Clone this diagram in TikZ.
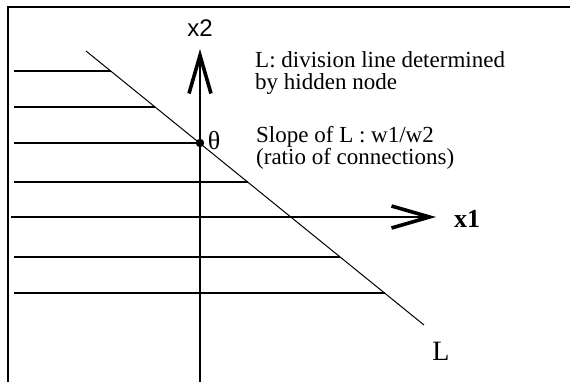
\documentclass[tikz,border=0pt]{standalone}
\usepackage{fontspec}
\setmainfont{Liberation Serif}
\newfontfamily\arialfont{Liberation Sans}
\usetikzlibrary{arrows.meta}
\tikzset{
  frameline/.style={line width=2.2pt},
  axisline/.style={line width=2.8pt},
  hatchline/.style={line width=1.5pt},
  divline/.style={line width=1pt},
  vtip/.style={-{Straight Barb[length=38pt,width=22pt,line width=3.6pt]}},
  txt/.style={inner sep=0pt,anchor=base west,font=\fontsize{23}{23}\selectfont},
}
\begin{document}
\begin{tikzpicture}[x=1pt,y=-1pt]
\useasboundingbox (0,0) rectangle (570,382);
% frame (left and top)
\coordinate (fb) at (8,382);
\coordinate (fc) at (8,7);
\coordinate (fr) at (570,7);
\draw[frameline] (fb) -- (fc) -- (fr);
% hatch lines
\foreach \yy/\xx [count=\i] in {71/110.7,107/155.1,143/199.5,182/247.6,257/340.1,293/384.5}{
  \coordinate (hs\i) at (14,\yy);
  \coordinate (he\i) at (\xx,\yy);
  \draw[hatchline] (hs\i) -- (he\i);
}
% division line L
\coordinate (La) at (86,51);
\coordinate (Lb) at (424,325);
\draw[divline] (La) -- (Lb);
% axes
\coordinate (x1s) at (11,217);
\coordinate (x1e) at (436,217);
\coordinate (x2s) at (200,382);
\coordinate (x2e) at (200,49);
\draw[axisline,vtip] (x1s) -- (x1e);
\draw[axisline,vtip] (x2s) -- (x2e);
% theta point
\fill (200,143) circle (4.2pt) coordinate (th);
\node[inner sep=0pt,font=\fontsize{26}{26}\selectfont] (thlab) at (214,141) {θ};
% axis labels
\node[inner sep=0pt,font=\arialfont\fontsize{24}{24}\selectfont] (x2lab) at (200,28) {x2};
\node[inner sep=0pt,font=\bfseries\fontsize{26}{26}\selectfont] (x1lab) at (467,219) {x1};
\node[inner sep=0pt,font=\fontsize{28}{28}\selectfont] (Llab) at (441,351) {L};
% texts
\node[txt] (t1) at (255,68) {L: division line determined};
\node[txt] (t2) at (255,90) {by hidden node};
\node[txt] (t3) at (256,143) {Slope of L : w1/w2};
\node[txt] (t4) at (256,165) {(ratio of connections)};
\end{tikzpicture}
\end{document}
